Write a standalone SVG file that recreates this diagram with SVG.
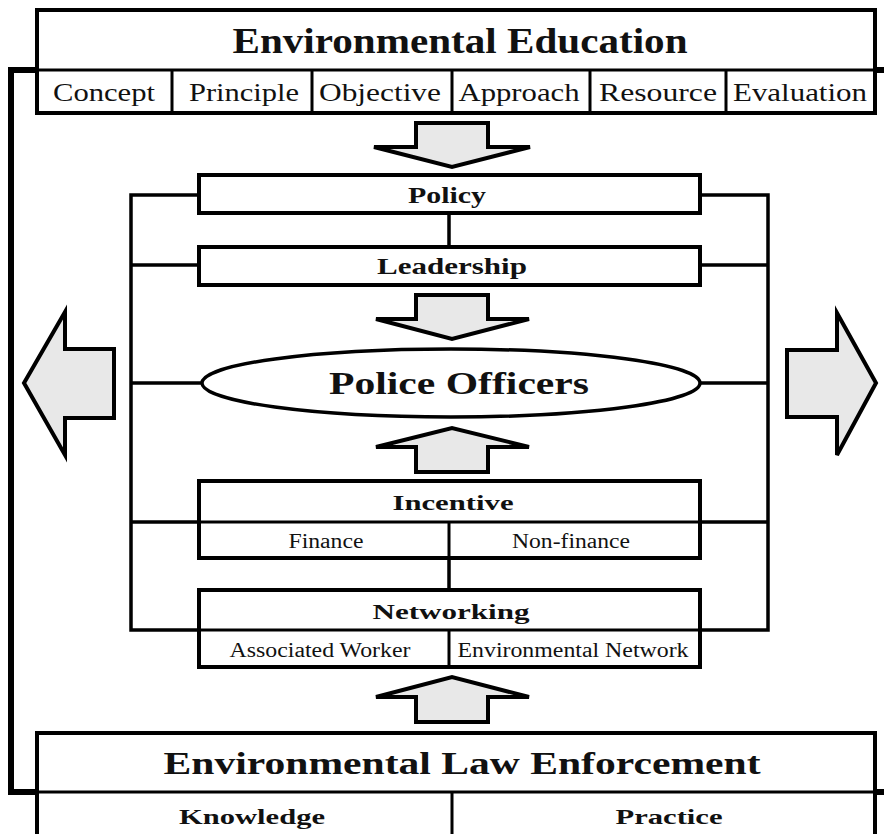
<svg xmlns="http://www.w3.org/2000/svg" width="884" height="834" viewBox="0 0 884 834">
<style>
.box{fill:#fff;stroke:#000;stroke-width:4}
.div{fill:none;stroke:#000;stroke-width:3}
.con{fill:none;stroke:#000;stroke-width:3.5}
.loop{fill:none;stroke:#000;stroke-width:6}
.arr{fill:#e8e8e8;stroke:#000;stroke-width:4;stroke-linejoin:miter}
text{font-family:"Liberation Serif","Times New Roman",serif;fill:#111;text-anchor:middle}
.h{font-weight:bold}
</style>
<rect width="884" height="834" fill="#fff"/>
<g id="connectors">
<path class="loop" d="M37,70 H11 V792 H37"/>
<path class="loop" d="M875,70 H884 M875,792 H884"/>
<path class="con" d="M200,195 H131 V630 H200 M131,265 H200 M131,383 H202 M131,522 H200"/>
<path class="con" d="M700,195 H768 V630 H700 M768,265 H700 M768,383 H700 M768,522 H700"/>
<path class="con" d="M449,213 V247 M449,558 V590"/>
</g>
<g id="arrows">
<polygon class="arr" points="416,123 488,123 488,147 530,147 452,167 374,147 416,147"/>
<polygon class="arr" points="416,295 488,295 488,319 529,319 452,339 376,319 416,319"/>
<polygon class="arr" points="416,472 488,472 488,447 529,447 452,428 376,447 416,447"/>
<polygon class="arr" points="416,722 488,722 488,697 529,697 452,677 376,697 416,697"/>
<polygon class="arr" points="24,383 65,312 65,349 114,349 114,418 65,418 65,455"/>
<polygon class="arr" points="876,383 837,313 837,350 787,350 787,417 837,417 837,455"/>
</g>
<g id="environmental-education">
<rect class="box" x="37" y="10" width="838" height="103"/>
<path class="div" d="M37,70 H875 M172,70 V113 M312,70 V113 M452,70 V113 M590,70 V113 M726,70 V113"/>
<text class="h" x="460" y="53" font-size="35" textLength="455" lengthAdjust="spacingAndGlyphs">Environmental Education</text>
<text x="104" y="101" font-size="25" textLength="102" lengthAdjust="spacingAndGlyphs">Concept</text>
<text x="244" y="101" font-size="25" textLength="110" lengthAdjust="spacingAndGlyphs">Principle</text>
<text x="380" y="101" font-size="25" textLength="122" lengthAdjust="spacingAndGlyphs">Objective</text>
<text x="519" y="101" font-size="25" textLength="121" lengthAdjust="spacingAndGlyphs">Approach</text>
<text x="658" y="101" font-size="25" textLength="118" lengthAdjust="spacingAndGlyphs">Resource</text>
<text x="800" y="101" font-size="25" textLength="134" lengthAdjust="spacingAndGlyphs">Evaluation</text>
</g>
<g id="policy">
<rect class="box" x="199" y="175" width="501" height="38"/>
<text class="h" x="447" y="203" font-size="24" textLength="78" lengthAdjust="spacingAndGlyphs">Policy</text>
</g>
<g id="leadership">
<rect class="box" x="199" y="247" width="501" height="38"/>
<text class="h" x="452" y="274" font-size="24" textLength="150" lengthAdjust="spacingAndGlyphs">Leadership</text>
</g>
<g id="police-officers">
<ellipse cx="451" cy="383" rx="249" ry="34" fill="#fff" stroke="#000" stroke-width="3.5"/>
<text class="h" x="459" y="394" font-size="32" textLength="260" lengthAdjust="spacingAndGlyphs">Police Officers</text>
</g>
<g id="incentive">
<rect class="box" x="199" y="481" width="501" height="77"/>
<path class="div" d="M199,522 H700 M449,522 V558"/>
<text class="h" x="453" y="510" font-size="22" textLength="121" lengthAdjust="spacingAndGlyphs">Incentive</text>
<text x="326" y="548" font-size="20" textLength="75" lengthAdjust="spacingAndGlyphs">Finance</text>
<text x="571" y="548" font-size="20" textLength="118" lengthAdjust="spacingAndGlyphs">Non-finance</text>
</g>
<g id="networking">
<rect class="box" x="199" y="590" width="501" height="77"/>
<path class="div" d="M199,630 H700 M449,630 V667"/>
<text class="h" x="451" y="619" font-size="22" textLength="157" lengthAdjust="spacingAndGlyphs">Networking</text>
<text x="320" y="657" font-size="20" textLength="181" lengthAdjust="spacingAndGlyphs">Associated Worker</text>
<text x="573" y="657" font-size="20" textLength="231" lengthAdjust="spacingAndGlyphs">Environmental Network</text>
</g>
<g id="environmental-law-enforcement">
<rect class="box" x="37" y="733" width="838" height="120"/>
<path class="div" d="M37,792 H875 M452,792 V834"/>
<text class="h" x="462" y="774" font-size="31" textLength="597" lengthAdjust="spacingAndGlyphs">Environmental Law Enforcement</text>
<text class="h" x="252" y="824" font-size="22" textLength="146" lengthAdjust="spacingAndGlyphs">Knowledge</text>
<text class="h" x="669" y="824" font-size="22" textLength="107" lengthAdjust="spacingAndGlyphs">Practice</text>
</g>
</svg>
